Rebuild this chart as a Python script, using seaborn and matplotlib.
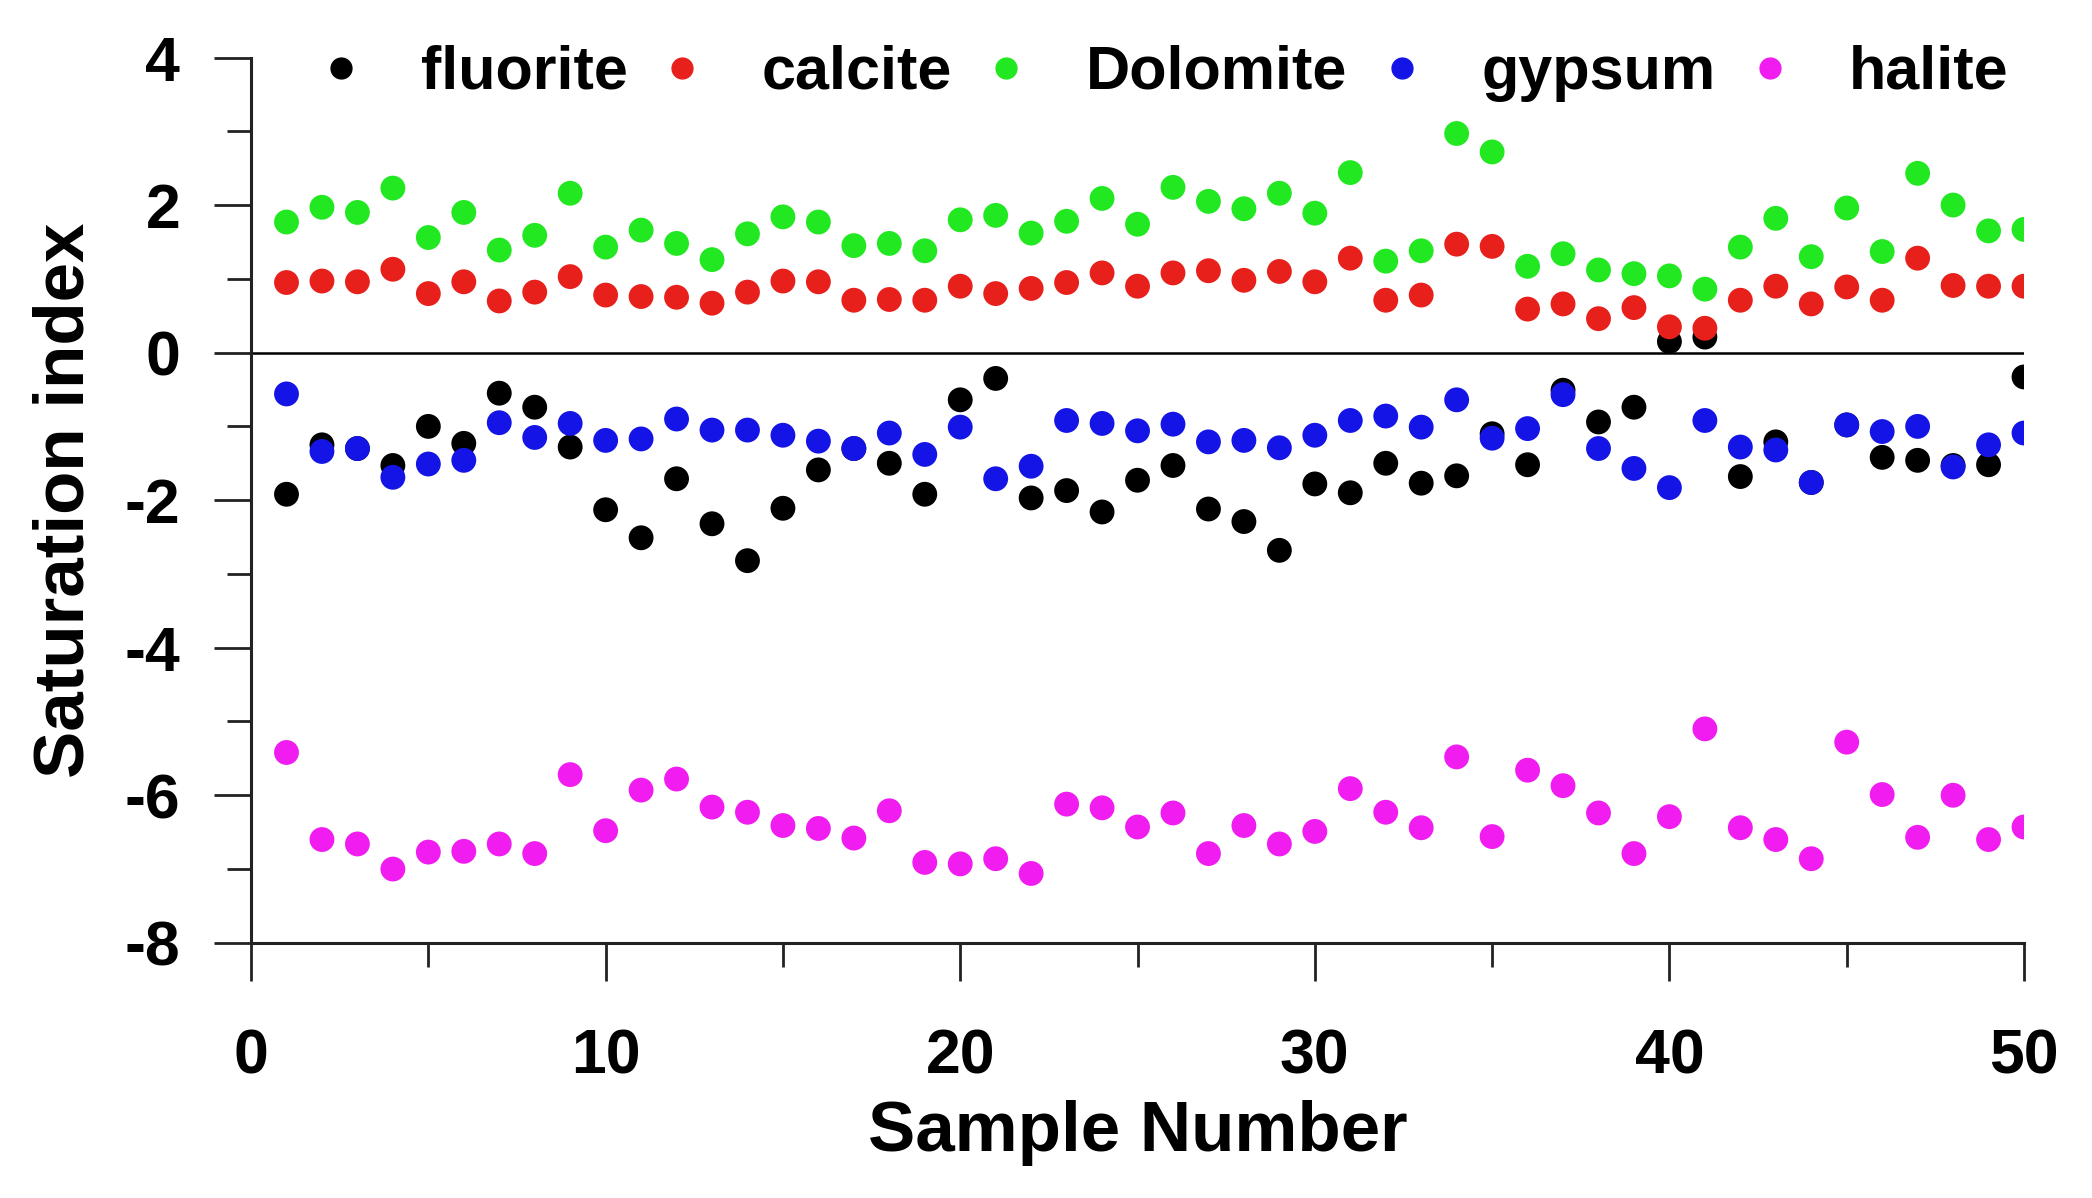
import numpy as np
import pandas as pd
import matplotlib
matplotlib.use("Agg")
import matplotlib.pyplot as plt
from matplotlib.ticker import MultipleLocator
import seaborn as sns

samples = list(range(1, 51))
fluorite = [-1.92, -1.25, -1.30, -1.53, -1.00, -1.23, -0.55, -0.74, -1.28, -2.13,
            -2.51, -1.71, -2.32, -2.82, -2.11, -1.59, -1.30, -1.50, -1.92, -0.64,
            -0.35, -1.97, -1.87, -2.16, -1.73, -1.53, -2.12, -2.29, -2.68, -1.78,
            -1.90, -1.50, -1.77, -1.67, -1.10, -1.52, -0.51, -0.94, -0.74, 0.15,
            0.21, -1.68, -1.21, -1.76, -0.98, -1.42, -1.46, -1.53, -1.52, -0.33]
calcite = [0.95, 0.97, 0.96, 1.13, 0.80, 0.96, 0.70, 0.82, 1.03, 0.78,
           0.76, 0.75, 0.67, 0.82, 0.97, 0.96, 0.71, 0.72, 0.71, 0.90,
           0.80, 0.87, 0.95, 1.08, 0.90, 1.08, 1.11, 0.98, 1.10, 0.96,
           1.28, 0.71, 0.78, 1.47, 1.44, 0.59, 0.66, 0.46, 0.61, 0.35,
           0.33, 0.71, 0.90, 0.66, 0.89, 0.71, 1.28, 0.91, 0.90, 0.90]
dolomite = [1.77, 1.97, 1.90, 2.23, 1.56, 1.90, 1.39, 1.59, 2.16, 1.43,
            1.66, 1.48, 1.26, 1.61, 1.84, 1.77, 1.45, 1.48, 1.38, 1.80,
            1.86, 1.62, 1.78, 2.09, 1.74, 2.24, 2.05, 1.95, 2.16, 1.89,
            2.44, 1.24, 1.38, 2.97, 2.72, 1.17, 1.34, 1.12, 1.07, 1.04,
            0.86, 1.43, 1.82, 1.30, 1.96, 1.37, 2.43, 2.00, 1.65, 1.67]
gypsum = [-0.56, -1.34, -1.30, -1.69, -1.51, -1.46, -0.95, -1.15, -0.96, -1.19,
          -1.17, -0.90, -1.05, -1.05, -1.12, -1.20, -1.30, -1.09, -1.38, -1.01,
          -1.71, -1.54, -0.92, -0.96, -1.06, -0.97, -1.21, -1.19, -1.29, -1.12,
          -0.92, -0.86, -1.01, -0.64, -1.16, -1.03, -0.57, -1.30, -1.57, -1.83,
          -0.92, -1.28, -1.32, -1.76, -0.98, -1.07, -1.00, -1.55, -1.25, -1.09]
halite = [-5.42, -6.60, -6.66, -7.00, -6.77, -6.76, -6.66, -6.79, -5.72, -6.48,
          -5.93, -5.78, -6.16, -6.23, -6.41, -6.45, -6.58, -6.21, -6.91, -6.93,
          -6.86, -7.06, -6.12, -6.17, -6.43, -6.24, -6.79, -6.41, -6.66, -6.49,
          -5.91, -6.23, -6.44, -5.48, -6.56, -5.66, -5.87, -6.24, -6.79, -6.29,
          -5.10, -6.44, -6.60, -6.86, -5.28, -5.99, -6.57, -6.00, -6.60, -6.43]

series_names = ["fluorite", "calcite", "Dolomite", "gypsum", "halite"]
series_values = [fluorite, calcite, dolomite, gypsum, halite]
colors = ["#000000", "#e8201c", "#22e822", "#1414e6", "#f01cf0"]

df = pd.concat([pd.DataFrame({"Sample": samples, "SI": v, "mineral": n})
                for n, v in zip(series_names, series_values)], ignore_index=True)

sns.set_theme(style="ticks")
plt.rcParams["font.family"] = ["Liberation Sans", "DejaVu Sans"]
plt.rcParams["font.weight"] = "bold"
plt.rcParams["axes.unicode_minus"] = False
plt.rcParams["text.color"] = "black"
plt.rcParams["axes.labelcolor"] = "black"
plt.rcParams["xtick.color"] = "black"
plt.rcParams["ytick.color"] = "black"

fig = plt.figure(figsize=(20.92, 11.98), dpi=100)
ax = fig.add_axes([0.12, 0.213, 0.8475, 0.739])

ax.axhline(0, color="black", lw=1.8, zorder=1)
sns.scatterplot(data=df, x="Sample", y="SI", hue="mineral", hue_order=series_names,
                palette=colors, s=320, linewidth=0, ax=ax, zorder=3, legend=False)

ax.set_xlim(0, 50)
ax.set_ylim(-8, 4)
ax.xaxis.set_major_locator(MultipleLocator(10))
ax.xaxis.set_minor_locator(MultipleLocator(5))
ax.yaxis.set_major_locator(MultipleLocator(2))
ax.yaxis.set_minor_locator(MultipleLocator(1))
ax.tick_params(axis="both", which="major", length=27, width=2, color="#222222",
               labelsize=45, labelcolor="black", direction="out")
ax.tick_params(axis="x", which="major", pad=34)
ax.tick_params(axis="y", which="major", pad=24)
ax.tick_params(axis="both", which="minor", length=17, width=2, color="#222222",
               direction="out")
for lab in ax.get_xticklabels() + ax.get_yticklabels():
    lab.set_fontweight("bold")
for side in ["top", "right"]:
    ax.spines[side].set_visible(False)
for side in ["left", "bottom"]:
    ax.spines[side].set_linewidth(2.2)
    ax.spines[side].set_color("#222222")

ax.set_xlabel("Sample Number", fontsize=51, fontweight="bold", labelpad=10, color="black")
ax.set_ylabel("Saturation index", fontsize=51, fontweight="bold", labelpad=19, color="black")

handles = [plt.Line2D([], [], marker="o", ls="", color=c, markersize=15) for c in colors]
ax.legend(handles, series_names, ncol=5, loc="center left", bbox_to_anchor=(0.02, 0.982),
          frameon=False, prop={"weight": "bold", "size": 44},
          handlelength=1.0, handletextpad=0.8, columnspacing=0.39, borderaxespad=0)

fig.savefig("out.png", dpi=100)
